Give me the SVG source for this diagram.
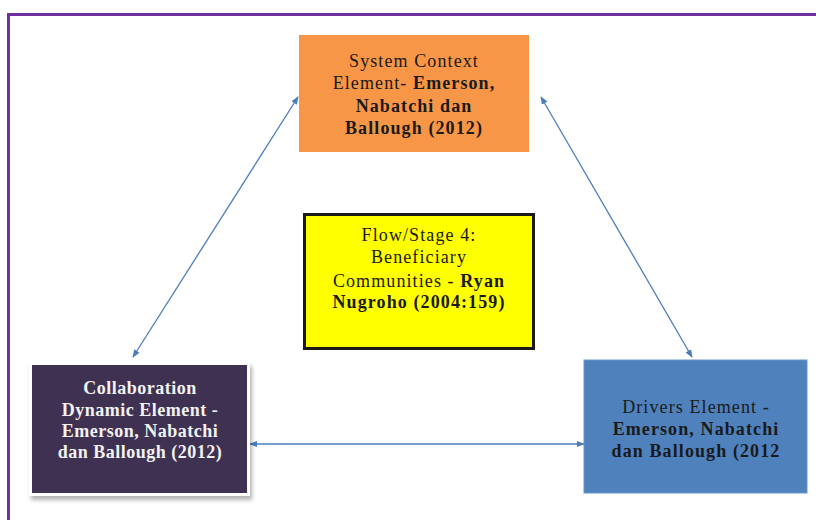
<svg xmlns="http://www.w3.org/2000/svg" width="816" height="520" viewBox="0 0 816 520">
<defs>
<marker id="ah" viewBox="0 0 10 10" refX="9" refY="5" markerWidth="8" markerHeight="8" markerUnits="userSpaceOnUse" orient="auto-start-reverse">
<path d="M0,1 L10,5 L0,9 Z" fill="#4a7ebb"/>
</marker>
<filter id="sh" x="-10%" y="-10%" width="130%" height="130%">
<feDropShadow dx="2" dy="4" stdDeviation="2" flood-color="#000" flood-opacity="0.3"/>
</filter>
</defs>
<style>
text{font-family:"Liberation Serif","Times New Roman",serif;font-size:18px;text-anchor:middle}
.b{font-weight:bold}
.dk{fill:#1a1a1a;letter-spacing:1.1px}
.wt{fill:#f2f2f2;font-weight:bold;letter-spacing:0.5px}
.c{stroke:#4a7ebb;stroke-width:1.3;fill:none;marker-start:url(#ah);marker-end:url(#ah)}
</style>
<rect width="816" height="520" fill="#fff"/>
<rect x="8.5" y="14.5" width="820" height="520" fill="none" stroke="#7030a0" stroke-width="3"/>
<g id="connectors">
<line class="c" x1="298" y1="97" x2="133" y2="357"/>
<line class="c" x1="541" y1="97" x2="692" y2="357"/>
<line class="c" x1="250" y1="444" x2="584" y2="444"/>
</g>
<g id="system-context">
<rect x="299" y="35" width="230" height="117" fill="#f79646"/>
<text class="dk" x="414" y="67">System Context</text>
<text class="dk" x="414" y="89">Element- <tspan class="b">Emerson,</tspan></text>
<text class="dk b" x="414" y="112">Nabatchi dan</text>
<text class="dk b" x="414" y="134">Ballough (2012)</text>
</g>
<g id="flow-stage">
<rect x="304.5" y="214.5" width="229" height="134" fill="#ffff00" stroke="#1a1a1a" stroke-width="3"/>
<text class="dk" x="419" y="241">Flow/Stage 4:</text>
<text class="dk" x="419" y="263">Beneficiary</text>
<text class="dk" x="419" y="287">Communities - <tspan class="b">Ryan</tspan></text>
<text class="dk b" x="419" y="308">Nugroho (2004:159)</text>
</g>
<g id="collaboration">
<rect x="29" y="362" width="221" height="134" fill="#fff" filter="url(#sh)"/>
<rect x="32" y="365" width="215" height="128" fill="#3f3151"/>
<text class="wt" x="140" y="394">Collaboration</text>
<text class="wt" x="140" y="416">Dynamic Element -</text>
<text class="wt" x="140" y="437">Emerson, Nabatchi</text>
<text class="wt" x="140" y="458">dan Ballough (2012)</text>
</g>
<g id="drivers">
<rect x="584" y="360" width="223" height="133" fill="#4f81bd" stroke="#6a94c8" stroke-width="1"/>
<text class="dk" x="696" y="413">Drivers Element -</text>
<text class="dk b" x="696" y="435">Emerson, Nabatchi</text>
<text class="dk b" x="696" y="457">dan Ballough (2012</text>
</g>
</svg>
